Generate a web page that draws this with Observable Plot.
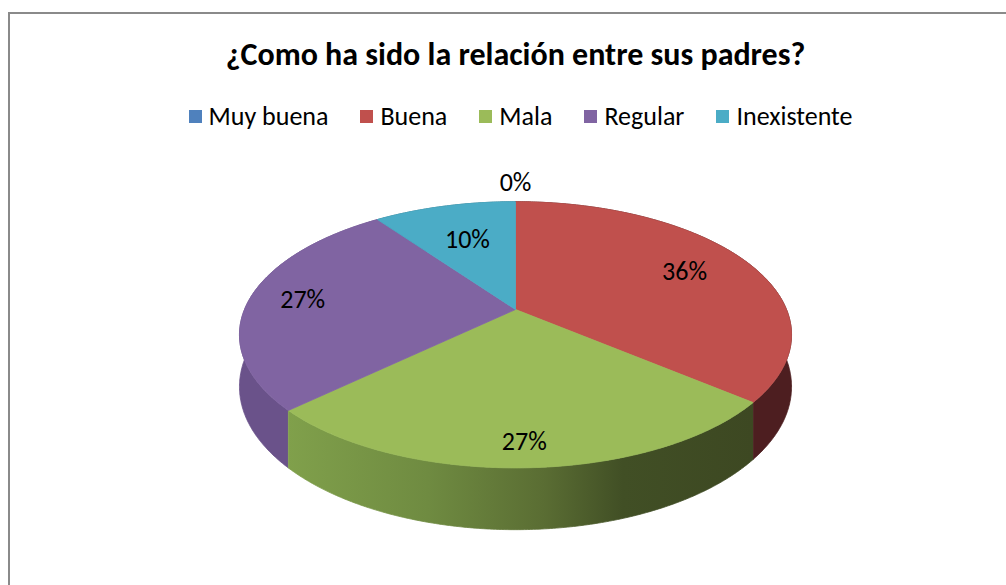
<!DOCTYPE html>
<html>
<head>
<meta charset="utf-8">
<script src="https://cdn.jsdelivr.net/npm/d3@7"></script>
<script src="https://cdn.jsdelivr.net/npm/@observablehq/plot@0.6"></script>
<style>
  html, body { margin: 0; padding: 0; background: #fff; overflow: hidden; }
  body { width: 1006px; height: 585px; position: relative; font-family: Carlito, Calibri, Lato, "Open Sans", sans-serif; }
  #frame { position: absolute; left: 8px; top: 12px; width: 1200px; height: 800px; border-top: 2px solid #8a8a8a; border-left: 2px solid #8a8a8a; box-sizing: border-box; }
  #title { position: absolute; left: 0; top: 35px; width: 1031px; text-align: center; font-weight: bold; font-size: 32px; color: #000; line-height: 40px; white-space: nowrap; }
  #legend { position: absolute; left: 0; top: 100px; width: 1041px; display: flex; justify-content: center; gap: 32px; font-size: 26px; line-height: 32px; color: #000; white-space: nowrap; }
  .item { display: flex; align-items: center; }
  .sw { width: 13px; height: 13px; margin-right: 7px; }
  #chart { position: absolute; left: 0; top: 150px; }
</style>
</head>
<body>
<div id="frame"></div>
<div id="title">¿Como ha sido la relación entre sus padres?</div>
<div id="legend"></div>
<div id="chart"></div>
<script>
// ---- data ----
const categories = ["Muy buena", "Buena", "Mala", "Regular", "Inexistente"];
const percents = [0, 36, 27, 27, 10];
const valueLabels = ["0%", "36%", "27%", "27%", "10%"];
const topColors = ["#4F81BD", "#C0504D", "#9BBB59", "#8064A2", "#4BACC6"];
const sideColors = ["#2f4d71", "#4d1e20", "url(#greenSide)", "#6a528a", "#2d6b7c"];

// ---- layout (pie geometry, not data) ----
const geo = { cx: 515, cy: 309, rx: 271, ry: 128.3, k: 0.19, depth: 0.39,
              svgTop: 150, width: 1006, height: 420,
              labelR: [1.22, 0.73, 0.86, 0.8, 0.64] };

// legend
const legend = document.getElementById("legend");
categories.forEach((c, i) => {
  const it = document.createElement("div");
  it.className = "item";
  it.innerHTML = `<div class="sw" style="background:${topColors[i]}"></div><span>${c}</span>`;
  legend.appendChild(it);
});

function proj(theta, r, z) {
  const u = r * Math.sin(theta), v = -r * Math.cos(theta);
  const s = 1 / (1 - geo.k * v);
  return { x: u * s, y: (v + z) * s };
}

const total = d3.sum(percents);
let cum = 0;
const slices = percents.map((p, i) => {
  const a0 = 2 * Math.PI * cum / total;
  cum += p;
  const a1 = 2 * Math.PI * cum / total;
  return { i, p, a0, a1 };
});

function arcPts(a0, a1, r, z) {
  const n = Math.max(2, Math.ceil((a1 - a0) / (Math.PI / 360)));
  const pts = [];
  for (let j = 0; j <= n; j++) pts.push(proj(a0 + (a1 - a0) * j / n, r, z));
  return pts;
}

const marks = [];
// side walls (back to front)
const sideOrder = [4, 1, 3, 2];
for (const i of sideOrder) {
  const s = slices[i];
  if (s.p <= 0) continue;
  const poly = [...arcPts(s.a0, s.a1, 1, 0), ...arcPts(s.a0, s.a1, 1, geo.depth).reverse()];
  marks.push(Plot.line(poly, { x: "x", y: "y", fill: sideColors[i], stroke: sideColors[i], strokeWidth: 0.8, curve: "linear" }));
}
// top faces
for (const s of slices) {
  if (s.p <= 0) continue;
  const poly = [{ x: 0, y: 0 }, ...arcPts(s.a0, s.a1, 1, 0), { x: 0, y: 0 }];
  marks.push(Plot.line(poly, { x: "x", y: "y", fill: topColors[s.i], stroke: topColors[s.i], strokeWidth: 0.8, curve: "linear" }));
}
// labels
const labelData = slices.map(s => {
  const m = (s.a0 + s.a1) / 2;
  const pt = proj(m, geo.labelR[s.i], 0);
  return { ...pt, label: valueLabels[s.i] };
});
marks.push(Plot.text(labelData, { x: "x", y: "y", text: "label", fill: "#000", fontSize: 26, textAnchor: "middle" }));

const xDomain = [(0 - geo.cx) / geo.rx, (geo.width - geo.cx) / geo.rx];
const yDomain = [(geo.svgTop - geo.cy) / geo.ry, (geo.svgTop + geo.height - geo.cy) / geo.ry];

const chart = Plot.plot({
  width: geo.width,
  height: geo.height,
  margin: 0,
  style: { fontFamily: "Carlito, Calibri, Lato, 'Open Sans', sans-serif", background: "transparent", overflow: "visible" },
  x: { domain: xDomain, range: [0, geo.width], axis: null },
  y: { domain: yDomain, range: [0, geo.height], axis: null },
  marks
});

// gradient for the green side wall
const g = slices[2];
const xs = chart.scale("x");
const gx1 = xs.apply(proj(g.a1, 1, 0).x), gx2 = xs.apply(proj(g.a0, 1, 0).x);
const ns = "http://www.w3.org/2000/svg";
const defs = document.createElementNS(ns, "defs");
const lg = document.createElementNS(ns, "linearGradient");
lg.setAttribute("id", "greenSide");
lg.setAttribute("gradientUnits", "userSpaceOnUse");
lg.setAttribute("x1", gx1); lg.setAttribute("x2", gx2);
lg.setAttribute("y1", 0); lg.setAttribute("y2", 0);
[[0, "#80a04b"], [0.3, "#6f8b41"], [0.55, "#5a6d33"], [0.72, "#414f25"], [1, "#3d4822"]].forEach(([o, c]) => {
  const st = document.createElementNS(ns, "stop");
  st.setAttribute("offset", o); st.setAttribute("stop-color", c);
  lg.appendChild(st);
});
defs.appendChild(lg);
chart.insertBefore(defs, chart.firstChild);

document.getElementById("chart").appendChild(chart);
</script>
</body>
</html>
